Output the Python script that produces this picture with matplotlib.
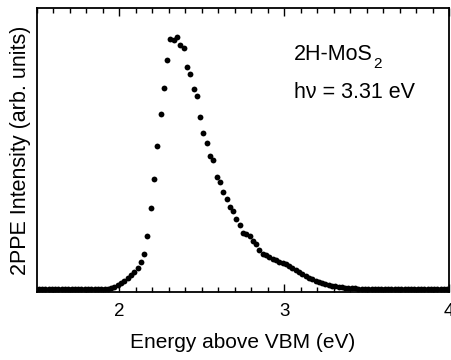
import numpy as np
import matplotlib
matplotlib.use("Agg")
import matplotlib.pyplot as plt
from matplotlib.ticker import MultipleLocator

plt.rcParams['font.family'] = ['Liberation Sans', 'DejaVu Sans']

# energy above VBM (eV), 0.02 eV steps
energy = [1.51, 1.53, 1.55, 1.57, 1.59, 1.61, 1.63, 1.65, 1.67, 1.69,
          1.71, 1.73, 1.75, 1.77, 1.79, 1.81, 1.83, 1.85, 1.87, 1.89,
          1.91, 1.93, 1.95, 1.97, 1.99, 2.01, 2.03, 2.05, 2.07, 2.09,
          2.11, 2.13, 2.15, 2.17, 2.19, 2.21, 2.23, 2.25, 2.27, 2.29,
          2.31, 2.33, 2.35, 2.37, 2.39, 2.41, 2.43, 2.45, 2.47, 2.49,
          2.51, 2.53, 2.55, 2.57, 2.59, 2.61, 2.63, 2.65, 2.67, 2.69,
          2.71, 2.73, 2.75, 2.77, 2.79, 2.81, 2.83, 2.85, 2.87, 2.89,
          2.91, 2.93, 2.95, 2.97, 2.99, 3.01, 3.03, 3.05, 3.07, 3.09,
          3.11, 3.13, 3.15, 3.17, 3.19, 3.21, 3.23, 3.25, 3.27, 3.29,
          3.31, 3.33, 3.35, 3.37, 3.39, 3.41, 3.43, 3.45, 3.47, 3.49,
          3.51, 3.53, 3.55, 3.57, 3.59, 3.61, 3.63, 3.65, 3.67, 3.69,
          3.71, 3.73, 3.75, 3.77, 3.79, 3.81, 3.83, 3.85, 3.87, 3.89,
          3.91, 3.93, 3.95, 3.97, 3.99]

# 2PPE intensity (arb. units)
intensity = [0.5, 0.5, 0.5, 0.5, 0.5, 0.5, 0.5, 0.5, 0.5, 0.5,
             0.5, 0.5, 0.5, 0.5, 0.5, 0.5, 0.5, 0.5, 0.5, 0.8,
             1.0, 1.0, 1.5, 3.0, 4.5, 6.5, 9.0, 12.0, 14.5, 17.5,
             22.0, 28.0, 36.0, 54.0, 82.0, 111.0, 144.0, 176.0, 202.0, 230.0,
             251.0, 250.0, 253.0, 245.0, 242.0, 223.0, 216.0, 201.0, 194.0, 173.0,
             157.0, 147.0, 134.0, 130.0, 113.0, 108.0, 98.0, 90.5, 83.0, 79.0,
             71.0, 65.0, 57.0, 56.0, 54.0, 49.0, 46.0, 40.0, 36.0, 34.5,
             33.0, 31.0, 29.5, 28.0, 27.0, 25.5, 24.0, 21.5, 19.5, 17.5,
             15.5, 13.5, 12.0, 10.5, 9.0, 8.0, 7.0, 5.5, 5.0, 4.0,
             3.5, 3.0, 2.5, 2.0, 2.0, 1.5, 1.5, 1.2, 1.0, 1.0,
             1.0, 0.8, 0.8, 0.8, 0.7, 0.7, 0.6, 0.6, 0.6, 0.5,
             0.5, 0.5, 0.5, 0.5, 0.5, 0.5, 0.5, 0.5, 0.5, 0.5,
             0.5, 0.5, 0.5, 0.5, 0.5]

fig = plt.figure(figsize=(4.51, 3.60), dpi=100)
ax = fig.add_axes([0.082, 0.189, 0.9136, 0.789])

ax.plot(energy, intensity, 'o', color='black', markersize=4.2, markeredgewidth=0)

ax.set_xlim(1.5, 4.0)
ax.set_ylim(-2, 282)
ax.xaxis.set_major_locator(MultipleLocator(1))
ax.xaxis.set_minor_locator(MultipleLocator(0.1))
ax.tick_params(axis='x', which='major', direction='in', length=6, width=1, top=True,
               labelsize=13.5, pad=8)
ax.tick_params(axis='x', which='minor', direction='in', length=3.5, width=1, top=True)
ax.set_yticks([])
for s in ax.spines.values():
    s.set_linewidth(1.3)

ax.set_xlabel('Energy above VBM (eV)', fontsize=15, labelpad=9)
ax.set_ylabel('2PPE Intensity (arb. units)', fontsize=15.5, labelpad=4)

# sample name, subscript placed by hand to sit low like the original
name = ax.text(3.06, 230, '2H-MoS', fontsize=15.5, va='baseline', ha='left')
ax.annotate('2', xy=(1, 0), xycoords=name, xytext=(0.5, -2.5),
            textcoords='offset points', fontsize=11, va='baseline', ha='left')
ax.text(3.06, 192, 'hν = 3.31 eV', fontsize=15.5, va='baseline', ha='left')

fig.savefig('out.png', dpi=100)
